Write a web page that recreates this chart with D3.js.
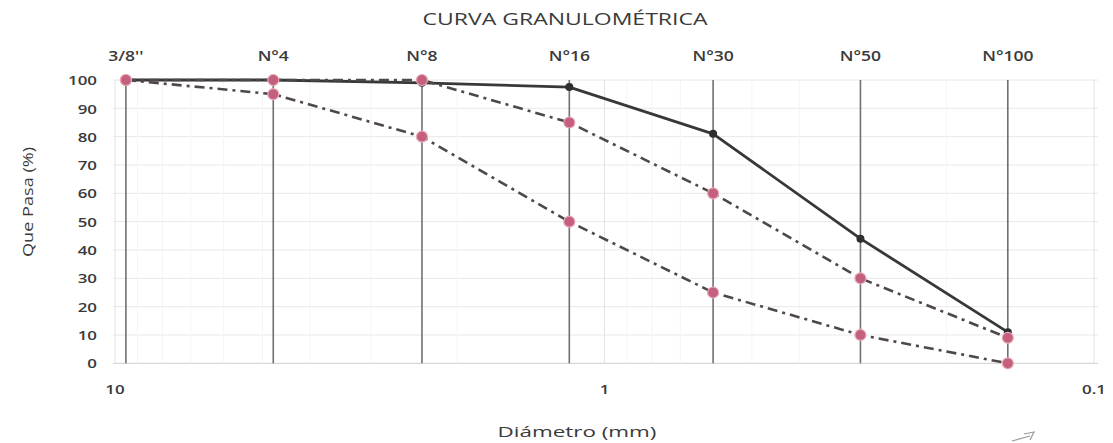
<!DOCTYPE html>
<html>
<head>
<meta charset="utf-8">
<script src="https://cdn.jsdelivr.net/npm/d3@7"></script>
<style>
  html, body { margin: 0; background: #fff; }
  svg { display: block; }
  text { font-family: "Open Sans", "Noto Sans", sans-serif; fill: #3a3a3a; }
  .tick { font-weight: 600; }
</style>
</head>
<body>
<svg id="chart" width="1113" height="443"></svg>
<script>
// Sieve series (ASTM designations and openings in mm)
const sieves     = ["3/8''", "N°4", "N°8", "N°16", "N°30", "N°50", "N°100"];
const openings   = [9.5, 4.75, 2.36, 1.18, 0.6, 0.3, 0.15];
// Percent passing of the sample and the grading envelope
const passing    = [100, 100, 99, 97.5, 81, 44, 11];
const upperLimit = [100, 100, 100, 85, 60, 30, 9];
const lowerLimit = [100, 95, 80, 50, 25, 10, 0];
// Axis ticks
const xTicks = [10, 1, 0.1];
const yTicks = [0, 10, 20, 30, 40, 50, 60, 70, 80, 90, 100];

const svg = d3.select("#chart");
const plot = { left: 115, right: 1094, top: 80, bottom: 363.3 };
const SX = 1.3; // horizontal stretch of the lettering

// Log scale, decreasing particle size to the right
const x = d3.scaleLog().domain([10, 0.1]).range([plot.left, plot.right]);
const y = d3.scaleLinear().domain([0, 100]).range([plot.bottom, plot.top]);

function label(g, px, py, str, size, anchor) {
  return g.append("text")
    .attr("class", "tick")
    .attr("transform", `translate(${px},${py}) scale(${SX},1)`)
    .attr("text-anchor", anchor)
    .attr("dominant-baseline", "central")
    .style("font-size", size + "px")
    .text(str);
}

// Title
svg.append("text")
  .attr("x", 565).attr("y", 19)
  .attr("text-anchor", "middle").attr("dominant-baseline", "central")
  .attr("textLength", 285).attr("lengthAdjust", "spacingAndGlyphs")
  .style("font-size", "16px").style("font-weight", 500)
  .text("CURVA GRANULOMÉTRICA");

// Grid: horizontal lines every 10 %
const grid = svg.append("g");
grid.selectAll("line.h").data(yTicks).join("line")
  .attr("class", "h")
  .attr("x1", plot.left - 2).attr("x2", plot.right + 4)
  .attr("y1", d => y(d)).attr("y2", d => y(d))
  .attr("stroke", d => d === 0 ? "#cfcfcf" : "#e8e8e8")
  .attr("stroke-width", 1);

// Log grid: minor and major vertical lines
const minorTicks = [];
[1, 0.1].forEach(base => { for (let k = 2; k <= 9; k++) minorTicks.push(base * k); });
grid.selectAll("line.vm").data(minorTicks).join("line")
  .attr("class", "vm")
  .attr("x1", d => x(d)).attr("x2", d => x(d))
  .attr("y1", y(100)).attr("y2", y(0))
  .attr("stroke", "#f4f4f4").attr("stroke-width", 1);
grid.selectAll("line.vM").data(xTicks).join("line")
  .attr("class", "vM")
  .attr("x1", d => x(d)).attr("x2", d => x(d))
  .attr("y1", y(100)).attr("y2", y(0))
  .attr("stroke", "#e2e2e2").attr("stroke-width", 1);

// Sieve reference lines
svg.append("g").selectAll("line").data(openings).join("line")
  .attr("x1", d => x(d)).attr("x2", d => x(d))
  .attr("y1", y(100)).attr("y2", y(0))
  .attr("stroke", "#707070").attr("stroke-width", 1.6);

// Y tick labels
const yAxisG = svg.append("g");
yTicks.forEach(t => label(yAxisG, 97, y(t), String(t), 13, "end"));

// X tick labels (mm)
const xAxisG = svg.append("g");
xTicks.forEach(t => label(xAxisG, x(t), 389, String(t), 13, "middle"));

// Sieve names along the top
const sieveG = svg.append("g");
sieves.forEach((s, i) => label(sieveG, x(openings[i]), 56, s, 13.5, "middle"));

// Axis titles
svg.append("text")
  .attr("transform", "translate(27,202) rotate(-90)")
  .attr("text-anchor", "middle").attr("dominant-baseline", "central")
  .attr("textLength", 110).attr("lengthAdjust", "spacingAndGlyphs")
  .style("font-size", "14px")
  .text("Que Pasa (%)");

svg.append("text")
  .attr("x", 577).attr("y", 431)
  .attr("text-anchor", "middle").attr("dominant-baseline", "central")
  .attr("textLength", 159).attr("lengthAdjust", "spacingAndGlyphs")
  .style("font-size", "15px").style("font-weight", 500)
  .text("Diámetro (mm)");

// Series
const line = d3.line()
  .x((d, i) => x(openings[i]))
  .y(d => y(d));

// Sample curve
svg.append("path").datum(passing)
  .attr("d", line).attr("fill", "none")
  .attr("stroke", "#383838").attr("stroke-width", 2.8)
  .attr("stroke-linejoin", "round");
svg.append("g").selectAll("circle").data(passing).join("circle")
  .attr("cx", (d, i) => x(openings[i])).attr("cy", d => y(d))
  .attr("r", 4).attr("fill", "#2f2f2f");

// Grading envelope (dash-dot)
[upperLimit, lowerLimit].forEach(series => {
  svg.append("path").datum(series)
    .attr("d", line).attr("fill", "none")
    .attr("stroke", "#4f484b").attr("stroke-width", 2.6)
    .attr("stroke-dasharray", "10,5,3,5");
});
[upperLimit, lowerLimit].forEach(series => {
  svg.append("g").selectAll("circle").data(series).join("circle")
    .attr("cx", (d, i) => x(openings[i])).attr("cy", d => y(d))
    .attr("r", 5.5).attr("fill", "#c4607c")
    .attr("stroke", "#e7a9ba").attr("stroke-width", 1.2);
});

// Small pen stroke in the lower right corner
svg.append("path")
  .attr("d", "M1012,441 L1030,436 M1024,434 L1034,432 L1030,440")
  .attr("fill", "none").attr("stroke", "#9a9a9a").attr("stroke-width", 1.2);
</script>
</body>
</html>
